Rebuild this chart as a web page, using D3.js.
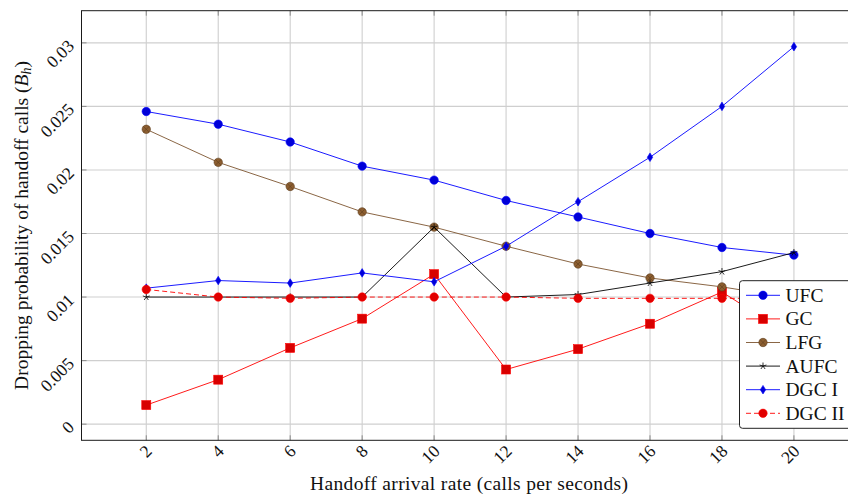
<!DOCTYPE html>
<html>
<head>
<meta charset="utf-8">
<script src="https://cdn.jsdelivr.net/npm/d3@7"></script>
<style>
  body { margin: 0; background: #fff; }
  svg { display: block; font-family: "Liberation Serif", "DejaVu Serif", serif; }
</style>
</head>
<body>
<svg id="chart" width="848" height="495"></svg>
<script>
// handoff arrival rate (calls per second)
const rates = [2, 4, 6, 8, 10, 12, 14, 16, 18, 20];

const ufc   = [0.0246, 0.0236, 0.0222, 0.0203, 0.0192, 0.0176, 0.0163, 0.0150, 0.0139, 0.0133];
const gc    = [0.0015, 0.0035, 0.0060, 0.0083, 0.0118, 0.0043, 0.0059, 0.0079, 0.0104, 0.0068];
const lfg   = [0.0232, 0.0206, 0.0187, 0.0167, 0.0155, 0.0140, 0.0126, 0.0115, 0.0108, 0.0099];
const aufc  = [0.0100, 0.0100, 0.0100, 0.0100, 0.0155, 0.0100, 0.0102, 0.0111, 0.0120, 0.0135];
const dgc1  = [0.0107, 0.0113, 0.0111, 0.0119, 0.0112, 0.0140, 0.0175, 0.0210, 0.0250, 0.0297];
const dgc2  = [0.0106, 0.0100, 0.0099, 0.0100, 0.0100, 0.0100, 0.0099, 0.0099, 0.0099, 0.0099];

const xTicks = [2, 4, 6, 8, 10, 12, 14, 16, 18, 20];
const yTicks = [0, 0.005, 0.01, 0.015, 0.02, 0.025, 0.03];

const series = [
  { name: 'UFC',    values: ufc,  line: '#0000ff', fill: '#0000d8', mark: 'circle' },
  { name: 'GC',     values: gc,   line: '#ff0000', fill: '#d80000', mark: 'square' },
  { name: 'LFG',    values: lfg,  line: '#7d5530', fill: '#8c5e30', mark: 'otimes' },
  { name: 'AUFC',   values: aufc, line: '#000000', fill: '#000000', mark: 'star' },
  { name: 'DGC I',  values: dgc1, line: '#0000ff', fill: '#0000d8', mark: 'diamond' },
  { name: 'DGC II', values: dgc2, line: '#ff0000', fill: '#e00000', mark: 'circle', dash: '5,3' }
];

const plot = { left: 81.5, right: 858.7, top: 10.7, bottom: 440.3 };

const svg = d3.select('#chart');

const x = d3.scaleLinear().domain([0.2, 21.8]).range([plot.left, plot.right]);
const y = d3.scaleLinear().domain([-0.00127, 0.03253]).range([plot.bottom, plot.top]);

svg.append('defs').append('clipPath').attr('id', 'plot-clip')
  .append('rect')
  .attr('x', plot.left).attr('y', plot.top)
  .attr('width', plot.right - plot.left).attr('height', plot.bottom - plot.top);

// grid
const grid = svg.append('g');
grid.selectAll('line.vx').data(xTicks).join('line')
  .attr('x1', (d) => x(d)).attr('x2', (d) => x(d))
  .attr('y1', plot.top).attr('y2', plot.bottom)
  .attr('stroke', '#cfcfcf').attr('stroke-width', 1.1);
grid.selectAll('line.hy').data(yTicks).join('line')
  .attr('x1', plot.left).attr('x2', plot.right)
  .attr('y1', (d) => y(d)).attr('y2', (d) => y(d))
  .attr('stroke', '#cfcfcf').attr('stroke-width', 1.1);

// inner tick stubs
const ticks = svg.append('g').attr('stroke', '#8a8a8a').attr('stroke-width', 1);
xTicks.forEach((t) => {
  ticks.append('line').attr('x1', x(t)).attr('x2', x(t)).attr('y1', plot.bottom).attr('y2', plot.bottom - 5);
  ticks.append('line').attr('x1', x(t)).attr('x2', x(t)).attr('y1', plot.top).attr('y2', plot.top + 5);
});
yTicks.forEach((t) => {
  ticks.append('line').attr('x1', plot.left).attr('x2', plot.left + 5).attr('y1', y(t)).attr('y2', y(t));
});

// frame
svg.append('rect')
  .attr('x', plot.left).attr('y', plot.top)
  .attr('width', plot.right - plot.left).attr('height', plot.bottom - plot.top)
  .attr('fill', 'none').attr('stroke', '#1a1a1a').attr('stroke-width', 1);

// tick labels
const fmt = (d) => (d === 0 ? '0' : String(+d.toFixed(3)));
svg.append('g').selectAll('text').data(yTicks).join('text')
  .attr('transform', (d) => `translate(71,${y(d)}) rotate(-45)`)
  .attr('text-anchor', 'end').attr('dominant-baseline', 'central')
  .attr('font-size', 17.5).attr('fill', '#111')
  .text(fmt);

svg.append('g').selectAll('text').data(xTicks).join('text')
  .attr('transform', (d) => `translate(${x(d) + 2.5},448) rotate(-45)`)
  .attr('text-anchor', 'end').attr('dominant-baseline', 'central')
  .attr('font-size', 17.5).attr('fill', '#111')
  .text((d) => d);

// axis titles
svg.append('text')
  .attr('x', 469).attr('y', 490)
  .attr('text-anchor', 'middle').attr('font-size', 19.5).attr('fill', '#111')
  .attr('textLength', 318).attr('lengthAdjust', 'spacing')
  .text('Handoff arrival rate (calls per seconds)');

const yTitle = svg.append('text')
  .attr('transform', `translate(28,${(plot.top + plot.bottom) / 2}) rotate(-90)`)
  .attr('text-anchor', 'middle').attr('font-size', 19.5).attr('fill', '#111');
yTitle.append('tspan').text('Dropping probability of handoff calls (');
yTitle.append('tspan').attr('font-style', 'italic').text('B');
yTitle.append('tspan').attr('font-style', 'italic').attr('font-size', 14).attr('dy', 3).text('h');
yTitle.append('tspan').attr('dy', -3).text(')');

function drawMark(g, s, cx, cy) {
  if (s.mark === 'circle') {
    g.append('circle').attr('cx', cx).attr('cy', cy).attr('r', 4.2)
      .attr('fill', s.fill).attr('stroke', s.line).attr('stroke-width', 0.6);
  } else if (s.mark === 'square') {
    g.append('rect').attr('x', cx - 4.5).attr('y', cy - 4.5).attr('width', 9).attr('height', 9)
      .attr('fill', s.fill).attr('stroke', s.line).attr('stroke-width', 0.6);
  } else if (s.mark === 'otimes') {
    g.append('circle').attr('cx', cx).attr('cy', cy).attr('r', 4.2)
      .attr('fill', s.fill).attr('stroke', '#5e3e1e').attr('stroke-width', 0.6);
    const k = 4.2 * Math.SQRT1_2;
    g.append('path')
      .attr('d', `M${cx - k},${cy - k}L${cx + k},${cy + k}M${cx - k},${cy + k}L${cx + k},${cy - k}`)
      .attr('stroke', '#5e3e1e').attr('stroke-width', 0.6);
  } else if (s.mark === 'star') {
    const r = 3.6;
    const d = d3.range(5).map((i) => {
      const a = -Math.PI / 2 + i * 2 * Math.PI / 5;
      return `M${cx},${cy}L${cx + r * Math.cos(a)},${cy + r * Math.sin(a)}`;
    }).join('');
    g.append('path').attr('d', d).attr('stroke', s.line).attr('stroke-width', 0.8).attr('fill', 'none');
  } else if (s.mark === 'diamond') {
    g.append('path')
      .attr('d', `M${cx},${cy - 4.3}L${cx + 2.7},${cy}L${cx},${cy + 4.3}L${cx - 2.7},${cy}Z`)
      .attr('fill', s.fill).attr('stroke', s.line).attr('stroke-width', 0.6);
  }
}

// series
const line = d3.line().x((d) => x(d[0])).y((d) => y(d[1]));
series.forEach((s) => {
  const pts = rates.map((r, i) => [r, s.values[i]]);
  const g = svg.append('g');
  g.append('path')
    .attr('d', line(pts))
    .attr('clip-path', 'url(#plot-clip)')
    .attr('fill', 'none').attr('stroke', s.line).attr('stroke-width', 0.9)
    .attr('stroke-dasharray', s.dash || null);
  pts.forEach((p) => drawMark(g, s, x(p[0]), y(p[1])));
});

// legend
const legend = svg.append('g');
legend.append('rect')
  .attr('x', 739.5).attr('y', 280.7).attr('width', 140).attr('height', 147.6).attr('rx', 3)
  .attr('fill', '#fff').attr('stroke', '#222').attr('stroke-width', 1);
series.forEach((s, i) => {
  const ry = 295.3 + i * 23.6;
  legend.append('line').attr('x1', 746).attr('x2', 780).attr('y1', ry).attr('y2', ry)
    .attr('stroke', s.line).attr('stroke-width', 0.9).attr('stroke-dasharray', s.dash || null);
  drawMark(legend, s, 763, ry);
  legend.append('text').attr('x', 785.5).attr('y', ry).attr('dominant-baseline', 'central')
    .attr('font-size', 19.5).attr('fill', '#111').text(s.name);
});
</script>
</body>
</html>
